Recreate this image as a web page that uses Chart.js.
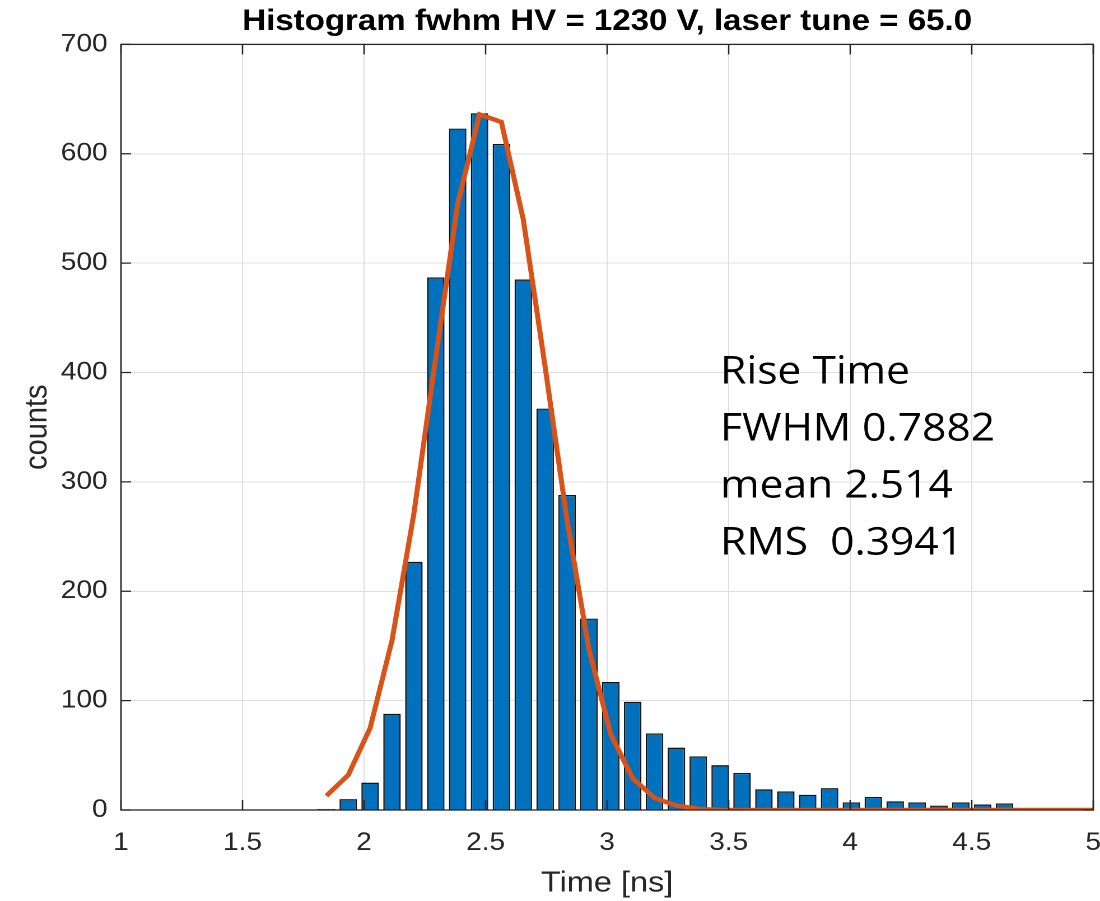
<!DOCTYPE html>
<html>
<head>
<meta charset="utf-8">
<script src="https://cdn.jsdelivr.net/npm/chart.js@4.4.1/dist/chart.umd.min.js"></script>
<style>
  html, body { margin: 0; padding: 0; background: #fff; overflow: hidden; }
  /* the source picture is stretched sideways a little, so the whole chart is too */
  #wrap { width: 982px; height: 901px; transform: scaleX(1.12016); transform-origin: 0 0; }
</style>
</head>
<body>
<div id="wrap"><canvas id="hist" width="982" height="901"></canvas></div>
<script>
// histogram bins (bin centres in ns) and counts
const binTime = [1.845, 1.935, 2.025, 2.115, 2.205, 2.295, 2.385, 2.475, 2.565, 2.655, 2.745,
  2.835, 2.925, 3.015, 3.105, 3.195, 3.285, 3.375, 3.465, 3.555, 3.645, 3.735, 3.825, 3.915,
  4.005, 4.095, 4.185, 4.275, 4.365, 4.455, 4.545, 4.635];
const binCounts = [1, 10, 25, 88, 227, 487, 623, 637, 609, 485, 367, 288, 175, 117, 99, 70,
  57, 49, 41, 34, 19, 17, 14, 20, 7, 12, 8, 7, 4, 7, 5, 6];

// gaussian fit curve
const fitTime = [1.845, 1.935, 2.025, 2.115, 2.205, 2.295, 2.385, 2.475, 2.565, 2.655, 2.745,
  2.835, 2.925, 3.015, 3.105, 3.195, 3.285, 3.375, 3.465, 3.555, 3.645, 3.735, 3.825, 3.915,
  4.005, 4.095, 4.185, 4.275, 4.365, 4.455, 4.545, 4.635, 4.725, 4.815, 4.905, 4.995, 5.085];
const fitCounts = [13, 32, 75, 155, 271, 414, 554, 636, 629, 540, 405, 265, 147, 69, 29, 11,
  4, 1, 0, 0, 0, 0, 0, 0, 0, 0, 0, 0, 0, 0, 0, 0, 0, 0, 0, 0, 0];

const xTicks = { min: 1, max: 5, step: 0.5 };
const yTicks = { min: 0, max: 700, step: 100 };

const titleText = 'Histogram fwhm HV = 1230 V, laser tune = 65.0';
const noteLines = ['Rise Time', 'FWHM 0.7882', 'mean 2.514', 'RMS  0.3941'];
const noteAt = [3.465, 390]; // data coords of first line's baseline

const axisColor = '#262626';
const gridColor = '#dedede';

Chart.defaults.font.family = '"Liberation Sans", Arial, Helvetica, sans-serif';
Chart.defaults.color = axisColor;

const frameAndNotes = {
  id: 'frameAndNotes',
  afterDatasetsDraw(chart) {
    const { ctx, chartArea: a, scales: { x, y } } = chart;
    ctx.save();
    ctx.strokeStyle = axisColor;
    ctx.lineWidth = 1.3;
    ctx.strokeRect(a.left, a.top, a.right - a.left, a.bottom - a.top);

    // inward ticks on all four sides
    ctx.beginPath();
    x.ticks.forEach(t => {
      const px = x.getPixelForValue(t.value);
      ctx.moveTo(px, a.bottom);
      ctx.lineTo(px, a.bottom - 10);
      ctx.moveTo(px, a.top);
      ctx.lineTo(px, a.top + 10);
    });
    y.ticks.forEach(t => {
      const py = y.getPixelForValue(t.value);
      ctx.moveTo(a.left, py);
      ctx.lineTo(a.left + 9, py);
      ctx.moveTo(a.right, py);
      ctx.lineTo(a.right - 9, py);
    });
    ctx.stroke();

    ctx.fillStyle = '#000';
    ctx.font = '38px "Open Sans", "Noto Sans", sans-serif';
    ctx.textAlign = 'left';
    ctx.textBaseline = 'alphabetic';
    const nx = x.getPixelForValue(noteAt[0]);
    const ny = y.getPixelForValue(noteAt[1]);
    noteLines.forEach((line, i) => ctx.fillText(line, nx, ny + i * 57));
    ctx.restore();
  }
};

new Chart(document.getElementById('hist').getContext('2d'), {
  type: 'bar',
  data: {
    datasets: [{
      type: 'line',
      label: 'fit',
      data: fitTime.map((t, i) => ({ x: t, y: fitCounts[i] })),
      borderColor: '#D95319',
      borderWidth: 4.5,
      pointRadius: 0,
      tension: 0,
      order: 0,
    }, {
      type: 'bar',
      label: 'counts',
      data: binTime.map((t, i) => ({ x: t, y: binCounts[i] })),
      backgroundColor: '#0072BD',
      borderColor: '#141414',
      borderWidth: 1.3,
      barPercentage: 1,
      categoryPercentage: 0.8,
      order: 1,
    }],
  },
  options: {
    responsive: false,
    animation: false,
    devicePixelRatio: 2,
    layout: { padding: { top: 0, right: 6, bottom: 0, left: 0 } },
    plugins: {
      legend: { display: false },
      tooltip: { enabled: false },
      title: {
        display: true,
        fullSize: false,
        text: titleText,
        color: '#000',
        font: { size: 29.5, weight: 'bold' },
        padding: { top: 4, bottom: 5 },
      },
    },
    scales: {
      x: {
        type: 'linear',
        offset: false,
        min: xTicks.min,
        max: xTicks.max,
        ticks: {
          stepSize: xTicks.step,
          padding: 18,
          font: { size: 25 },
          maxRotation: 0,
          callback: v => String(v),
        },
        grid: { color: gridColor, drawTicks: false, offset: false },
        border: { display: false },
        title: { display: true, text: 'Time [ns]', font: { size: 29 }, padding: { top: 0, bottom: 0 } },
        afterFit: scale => {
          scale.height = 91;
          scale.paddingLeft = 0;
          scale.paddingRight = 0;
        },
      },
      y: {
        min: yTicks.min,
        max: yTicks.max,
        ticks: { stepSize: yTicks.step, padding: 12, font: { size: 25 } },
        grid: { color: gridColor, drawTicks: false },
        border: { display: false },
        title: { display: true, text: 'counts', font: { size: 29 }, padding: { top: 16, bottom: 0 } },
        afterFit: scale => {
          scale.width = 108;
          scale.paddingTop = 0;
          scale.paddingBottom = 0;
        },
      },
    },
  },
  plugins: [frameAndNotes],
});
</script>
</body>
</html>
